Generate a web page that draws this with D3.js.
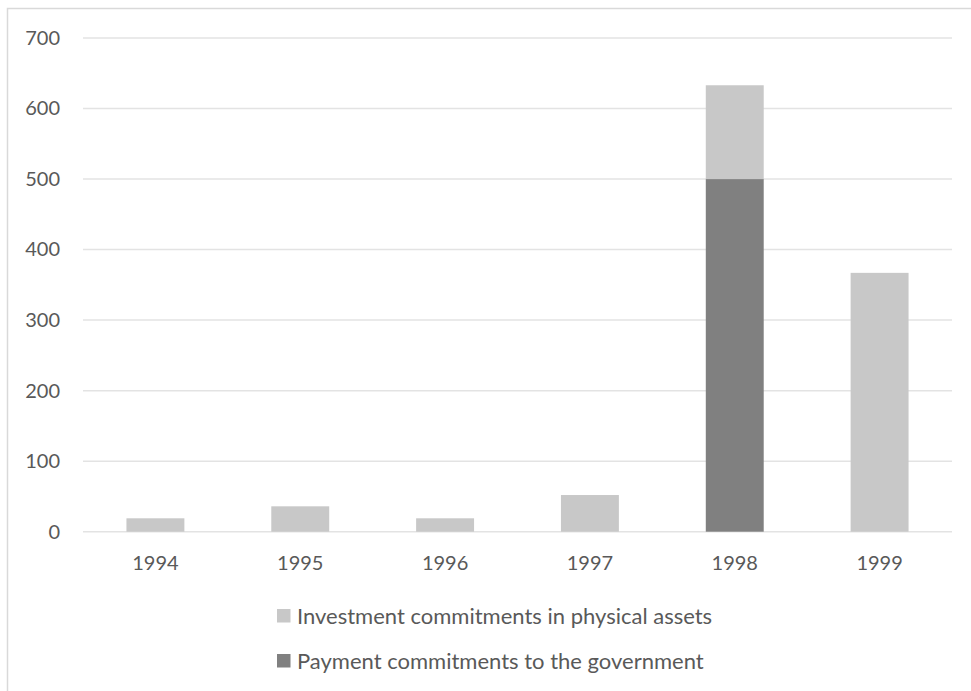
<!DOCTYPE html>
<html>
<head>
<meta charset="utf-8">
<script src="https://cdn.jsdelivr.net/npm/d3@7"></script>
<style>
  html, body { margin: 0; padding: 0; background: #fff; }
  svg { display: block; }
  text { font-family: Lato, "Open Sans", sans-serif; fill: #595959; }
</style>
</head>
<body>
<svg id="chart" width="971" height="691"></svg>
<script>
const categories = ["1994", "1995", "1996", "1997", "1998", "1999"];
const seriesNames = ["Payment commitments to the government", "Investment commitments in physical assets"];
const payment = [0, 0, 0, 0, 500, 0];
const investment = [19, 36, 19, 52, 133, 367];
const yTicks = [0, 100, 200, 300, 400, 500, 600, 700];
const colors = { payment: "#808080", investment: "#c8c8c8" };

(function () {
const svg = d3.select("#chart");
const W = 971, H = 691;

// outer border
svg.append("rect").attr("x", 7.5).attr("y", 8.5).attr("width", W + 10).attr("height", H + 10)
  .attr("fill", "none").attr("stroke", "#d9d9d9").attr("stroke-width", 1.5);

const mLeft = 83, mRight = 952, mTop = 38, mBottom = 531.7;
const x = d3.scaleBand().domain(categories).range([mLeft, mRight]).paddingInner(0.6).paddingOuter(0.3);
const y = d3.scaleLinear().domain([0, 700]).range([mBottom, mTop]);

// gridlines
svg.append("g").selectAll("line").data(yTicks).join("line")
  .attr("x1", mLeft).attr("x2", mRight)
  .attr("y1", d => y(d)).attr("y2", d => y(d))
  .attr("stroke", "#e3e3e3").attr("stroke-width", 1.5);

// y axis labels
const yAxis = d3.axisLeft(y).tickValues(yTicks).tickSize(0).tickPadding(0).tickFormat(d3.format("d"));
const gy = svg.append("g").attr("transform", `translate(60,0)`).call(yAxis);
gy.select(".domain").remove();
gy.selectAll("text").attr("font-size", 20).attr("font-family", "Lato, sans-serif").attr("fill", "#595959");

// stacked bars
const data = categories.map((c, i) => ({ cat: c, payment: payment[i], investment: investment[i] }));
const stack = d3.stack().keys(["payment", "investment"])(data);
svg.append("g").selectAll("g").data(stack).join("g")
  .attr("fill", d => colors[d.key])
  .selectAll("rect").data(d => d).join("rect")
  .attr("x", d => x(d.data.cat))
  .attr("width", x.bandwidth())
  .attr("y", d => y(d[1]))
  .attr("height", d => y(d[0]) - y(d[1]));

// x axis labels
const xAxis = d3.axisBottom(x).tickSize(0).tickPadding(0);
const gx = svg.append("g").attr("transform", `translate(0,${mBottom + 31})`).call(xAxis);
gx.select(".domain").remove();
gx.selectAll("text").attr("font-size", 20).attr("font-family", "Lato, sans-serif").attr("fill", "#595959")
  .attr("dy", "0.35em");

// legend
const legendItems = [
  { name: seriesNames[1], color: colors.investment },
  { name: seriesNames[0], color: colors.payment }
];
const lg = svg.append("g").selectAll("g").data(legendItems).join("g")
  .attr("transform", (d, i) => `translate(277,${609 + i * 45})`);
lg.append("rect").attr("width", 13.5).attr("height", 13.5).attr("fill", d => d.color);
lg.append("text").attr("x", 20).attr("y", 7).attr("dy", "0.35em")
  .attr("font-size", 22).text(d => d.name);
})();
</script>
</body>
</html>
